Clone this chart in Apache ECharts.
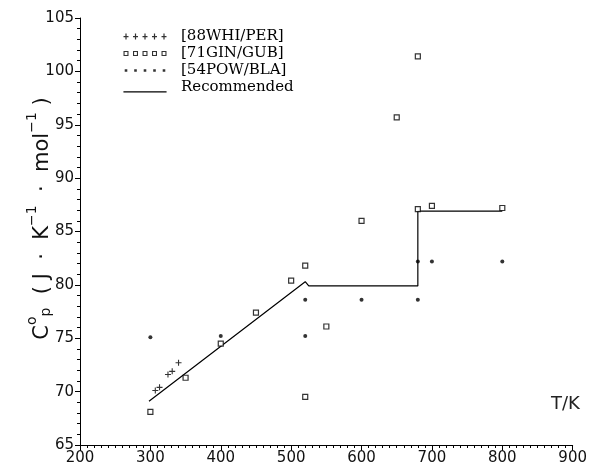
<!DOCTYPE html>
<html><head><meta charset="utf-8">
<script src="https://cdn.jsdelivr.net/npm/echarts@6/dist/echarts.min.js"></script>
<style>html,body{margin:0;padding:0;background:#fff}#c{width:590px;height:467px}</style>
</head><body><div id="c"></div>
<script>
// ---- data ----
const whiT  = [307, 313, 325, 331, 340];
const whiCp = [70.1, 70.4, 71.6, 71.9, 72.7];

const ginT  = [300, 350, 400, 450, 500, 520, 520, 550, 600, 650, 680, 680, 700, 800];
const ginCp = [68.1, 71.3, 74.5, 77.4, 80.4, 81.8, 69.5, 76.1, 86.0, 95.7, 101.4, 87.1, 87.4, 87.2];

const powT  = [300, 400, 520, 520, 600, 680, 680, 700, 800];
const powCp = [75.1, 75.2, 78.6, 75.2, 78.6, 78.6, 82.2, 82.2, 82.2];

const recT  = [298, 520, 525, 680, 680, 800];
const recCp = [69.1, 80.3, 79.9, 79.9, 86.9, 86.9];

const seriesNames = ['[88WHI/PER]', '[71GIN/GUB]', '[54POW/BLA]', 'Recommended'];
const xTicks = [200, 300, 400, 500, 600, 700, 800, 900];
const yTicks = [65, 70, 75, 80, 85, 90, 95, 100, 105];

const zip = (a, b) => a.map((v, i) => [v, b[i]]);

// legend icons (50 x 10 box)
function iconPath(kind) {
  let p = 'M0,0L0,0M50,10L50,10';
  for (let i = 0; i < 5; i++) {
    const cx = 6 + i * 9.5;
    if (kind === 'cross') p += `M${cx-2.5},4.5h5v1.2h-5zM${cx-0.6},2h1.2v6h-1.2z`;
    if (kind === 'square') p += `M${cx-2.5},2.5h5v5h-5zM${cx-1.4},3.6v2.8h2.8v-2.8z`;
    if (kind === 'dot') p += `M${cx-1.3},3.7h2.6v2.6h-2.6z`;
  }
  if (kind === 'line') p += 'M3,9h44v1.2h-44z';
  return 'path://' + p;
}

const chart = echarts.init(document.getElementById('c'), null, {renderer: 'canvas'});
const font = 'DejaVu Sans';
chart.setOption({
  animation: false,
  backgroundColor: '#fff',
  grid: {left: 80, right: 15, top: 18, bottom: 22},
  legend: {
    orient: 'vertical', left: 120, top: 29, padding: 0,
    itemWidth: 50, itemHeight: 10, itemGap: 2,
    textStyle: {fontFamily: 'DejaVu Serif', fontSize: 15, color: '#000', padding: [0, 0, 0, 6]},
    data: [
      {name: seriesNames[0], icon: iconPath('cross'), itemStyle: {color: '#000', borderWidth: 0}},
      {name: seriesNames[1], icon: iconPath('square'), itemStyle: {color: '#000', borderWidth: 0}},
      {name: seriesNames[2], icon: iconPath('dot'), itemStyle: {color: '#000', borderWidth: 0}},
      {name: seriesNames[3], icon: iconPath('line'), itemStyle: {color: '#000', borderWidth: 0}}
    ]
  },
  xAxis: {
    type: 'value', min: xTicks[0], max: xTicks[xTicks.length - 1], interval: 100,
    axisLine: {lineStyle: {color: '#000', width: 1}},
    axisTick: {show: true, length: 6, lineStyle: {color: '#000'}},
    minorTick: {show: true, splitNumber: 10, length: 3, lineStyle: {color: '#000'}},
    splitLine: {show: false},
    axisLabel: {fontFamily: font, fontSize: 15, color: '#111', margin: 6}
  },
  yAxis: {
    type: 'value', min: yTicks[0], max: yTicks[yTicks.length - 1], interval: 5,
    axisLine: {show: true, lineStyle: {color: '#000', width: 1}},
    axisTick: {show: true, length: 5, lineStyle: {color: '#000'}},
    minorTick: {show: true, splitNumber: 5, length: 3, lineStyle: {color: '#000'}},
    splitLine: {show: false},
    axisLabel: {fontFamily: font, fontSize: 15, color: '#111', margin: 6},
    name: '{a|C}{sup|o}{sub|p}{a|  ( J  ·  K}{sup|−1}{a|  ·  mol}{sup|−1}{a| )}',
    nameLocation: 'middle', nameRotate: 90, nameGap: 27, nameMoveOverlap: false,
    nameTextStyle: {
      color: '#111', padding: [0, 0, 0, 26],
      rich: {
        a: {fontFamily: font, fontSize: 21, color: '#111', lineHeight: 28, verticalAlign: 'bottom'},
        sup: {fontFamily: font, fontSize: 14, color: '#111', lineHeight: 28, verticalAlign: 'top'},
        sub: {fontFamily: font, fontSize: 14, color: '#111', lineHeight: 14, verticalAlign: 'bottom'}
      }
    }
  },
  graphic: [{
    type: 'text', left: 551, top: 395,
    style: {text: 'T/K', fontFamily: font, fontSize: 18, fill: '#222'}
  }],
  series: [
    {
      name: seriesNames[0], type: 'scatter', data: zip(whiT, whiCp),
      symbol: 'path://M0,3H6M3,0V6', symbolSize: 6,
      itemStyle: {color: 'transparent', borderColor: '#000', borderWidth: 1.1}
    },
    {
      name: seriesNames[1], type: 'scatter', data: zip(ginT, ginCp),
      symbol: 'rect', symbolSize: 5,
      itemStyle: {color: '#fff', borderColor: '#000', borderWidth: 1.2}
    },
    {
      name: seriesNames[2], type: 'scatter', data: zip(powT, powCp),
      symbol: 'circle', symbolSize: 4,
      itemStyle: {color: '#000'}
    },
    {
      name: seriesNames[3], type: 'line', data: zip(recT, recCp),
      showSymbol: false, symbol: 'none',
      lineStyle: {color: '#000', width: 1.2}, z: 1
    }
  ]
});
</script></body></html>
